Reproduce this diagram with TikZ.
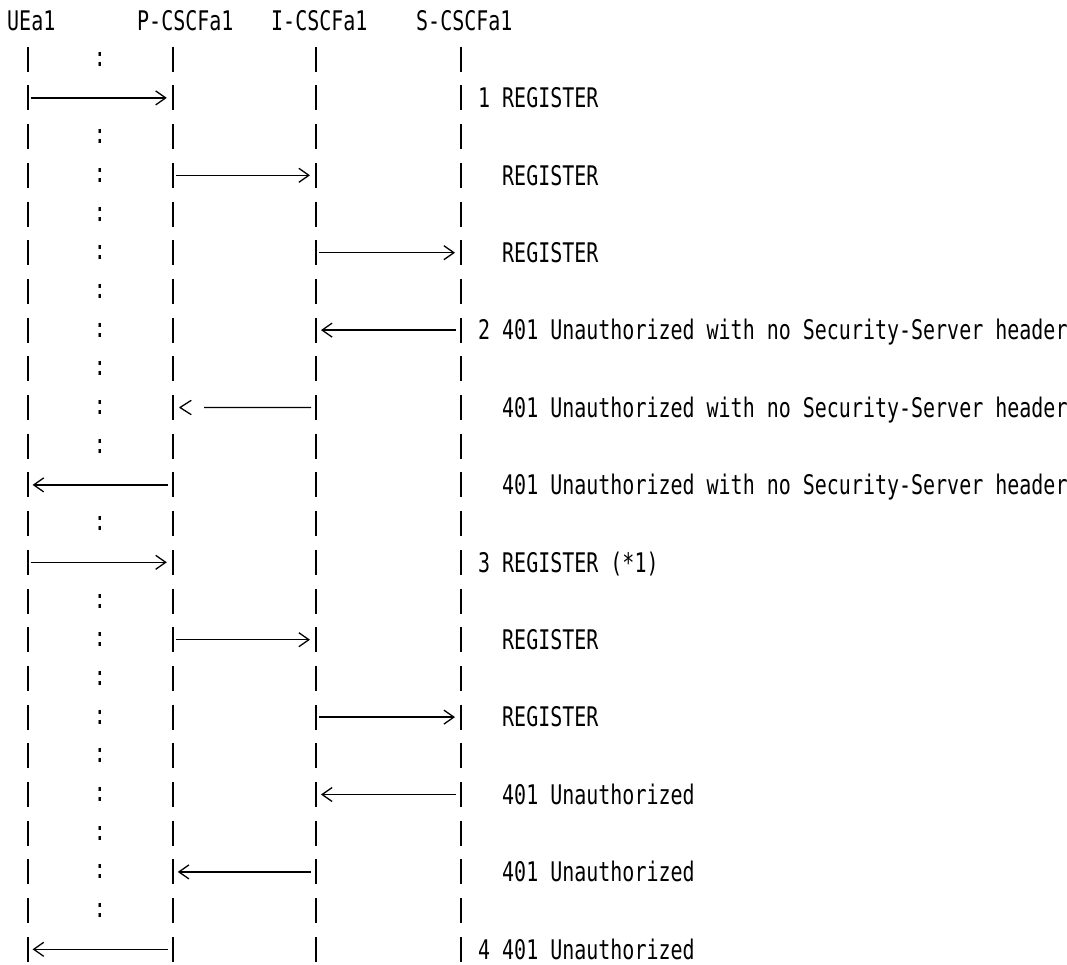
\documentclass[tikz,border=0pt]{standalone}
\usepackage{fontspec}
\newfontfamily\mono[FakeStretch=0.74]{DejaVu Sans Mono}
\usetikzlibrary{arrows.meta}
\begin{document}
\begin{tikzpicture}[x=1pt,y=-1pt,
  txt/.style={inner sep=0pt, anchor=base west, font=\mono\fontsize{27}{27}\selectfont},
  colon/.style={inner sep=0pt, anchor=center, font=\mono\fontsize{27}{27}\selectfont},
  life/.style={line width=2.2pt, dash pattern=on 25pt off 13.7pt},
  msgline/.style={line width=1.3pt},
  msg/.style={msgline, -{Straight Barb[length=10pt,width=14pt]}},
  rmsg/.style={msg, shorten <=3pt, shorten >=6pt},
  lmsg/.style={msg, shorten <=5pt, shorten >=5pt},
]
\useasboundingbox (0,0) rectangle (1067,964);

% header
\node[txt] (hUE) at (7,30.3) {UEa1};
\node[txt] (hP) at (137,30.3) {P-CSCFa1};
\node[txt] (hI) at (271,30.3) {I-CSCFa1};
\node[txt] (hS) at (416,30.3) {S-CSCFa1};

% lifelines
\foreach \n/\x in {UE/27.6,P/172.8,I/316,S/461}{
  \coordinate (\n top) at (\x,46.7);
  \coordinate (\n bot) at (\x,963);
  \draw[life] (\n top) -- (\n bot);
  \foreach \k in {2,4,...,24}{
    \coordinate (\n\k) at (\x,{20.5+38.7*\k});
  }
}

% colons
\foreach \k in {1,3,4,5,6,7,8,9,10,11,13,15,16,17,18,19,20,21,22,23}{
  \node[colon] (c\k) at (100,{20.5+38.7*\k}) {:};
}

% messages
\draw[rmsg] (UE2) -- (P2);
\draw[rmsg] (P4) -- (I4);
\draw[rmsg] (I6) -- (S6);
\draw[lmsg] (S8) -- (I8);
\coordinate (g10) at (204,407.5);
\draw[msgline, shorten <=5pt] (I10) -- (g10);
\draw[msgline, line join=round, line cap=round] (191,400.5) -- (180,407.5) -- (191,414.5);
\draw[lmsg] (P12) -- (UE12);
\draw[rmsg] (UE14) -- (P14);
\draw[rmsg] (P16) -- (I16);
\draw[rmsg] (I18) -- (S18);
\draw[lmsg] (S20) -- (I20);
\draw[lmsg] (I22) -- (P22);
\draw[lmsg] (P24) -- (UE24);

% labels
\node[txt] (n2) at (478,107.7) {1};
\node[txt] (l2) at (502,107.7) {REGISTER};
\node[txt] (l4) at (502,185.1) {REGISTER};
\node[txt] (l6) at (502,262.5) {REGISTER};
\node[txt] (n8) at (478,339.9) {2};
\node[txt] (l8) at (502,339.9) {401 Unauthorized with no Security-Server header};
\node[txt] (l10) at (502,417.3) {401 Unauthorized with no Security-Server header};
\node[txt] (l12) at (502,494.7) {401 Unauthorized with no Security-Server header};
\node[txt] (n14) at (478,572.1) {3};
\node[txt] (l14) at (502,572.1) {REGISTER (*1)};
\node[txt] (l16) at (502,649.5) {REGISTER};
\node[txt] (l18) at (502,726.9) {REGISTER};
\node[txt] (l20) at (502,804.3) {401 Unauthorized};
\node[txt] (l22) at (502,881.7) {401 Unauthorized};
\node[txt] (n24) at (478,959.1) {4};
\node[txt] (l24) at (502,959.1) {401 Unauthorized};
\end{tikzpicture}
\end{document}
